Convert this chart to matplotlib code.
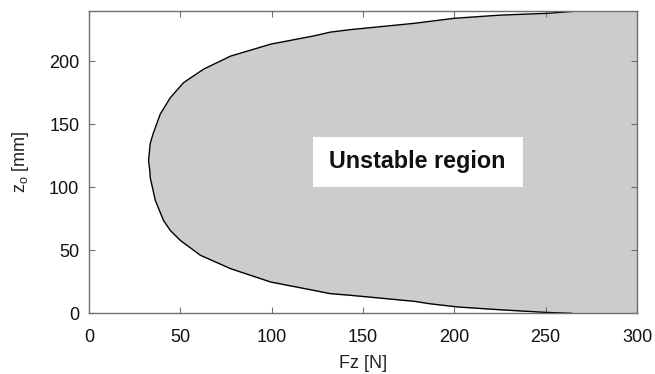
import matplotlib
matplotlib.use("Agg")
import matplotlib.pyplot as plt
from matplotlib.patches import Rectangle

plt.rcParams["font.family"] = ["Liberation Sans", "DejaVu Sans"]

# boundary of the unstable region (bottom -> top)
z_mm = [0, 0.8, 2.8, 5.0, 7.5, 9.5, 14.3, 15.6, 18.2, 24.8, 35.4, 46, 57.8, 65.7,
        73.6, 89.5, 107.7, 113, 121, 134.6, 142, 158, 171, 183, 193.7, 204,
        213.5, 220, 223, 225, 230, 234, 236.5, 238, 239.6, 240]
fz_n = [264, 249, 225, 202, 187, 178, 143, 132, 123, 99.5, 77.5, 61, 50, 44.5,
        40.8, 36.3, 33.5, 33.3, 32.6, 33.5, 35, 39, 44.5, 51.8, 62.8, 77.5,
        99.5, 123, 132, 143, 178, 200, 225, 251.6, 266, 270]

x_ticks = [0, 50, 100, 150, 200, 250, 300]
y_ticks = [0, 50, 100, 150, 200]
fz_max = 300
z_max = 240

fig = plt.figure(figsize=(6.55, 3.74), dpi=100)
ax = fig.add_axes([0.1359, 0.1623, 0.8366, 0.809])

ax.fill_betweenx(z_mm, fz_n, fz_max, color="#cccccc", lw=0)
ax.plot(fz_n, z_mm, color="black", lw=1.0)

# white label box
ax.add_patch(Rectangle((122.5, 100.5), 115, 39.5, facecolor="white",
                       edgecolor="none", zorder=3))
ax.text(179.5, 120.4, "Unstable region", fontsize=16.8, fontweight="bold",
        ha="center", va="center", color="#111111", zorder=4)

ax.set_xlim(0, fz_max)
ax.set_ylim(0, z_max)
ax.set_xticks(x_ticks)
ax.set_yticks(y_ticks)
ax.tick_params(direction="in", length=4, width=0.8, top=True, right=True,
               labelsize=13, colors="#707070", labelcolor="#111111")
ax.tick_params(axis="x", pad=11)
ax.tick_params(axis="y", pad=7)
for sp in ax.spines.values():
    sp.set_color("#707070")
    sp.set_linewidth(1.0)

ax.set_xlabel("Fz [N]", fontsize=13, color="#222222", labelpad=7)
ax.set_ylabel("z$_\\mathregular{o}$ [mm]", fontsize=13, color="#222222", labelpad=13)

fig.savefig("out.png", dpi=100)
